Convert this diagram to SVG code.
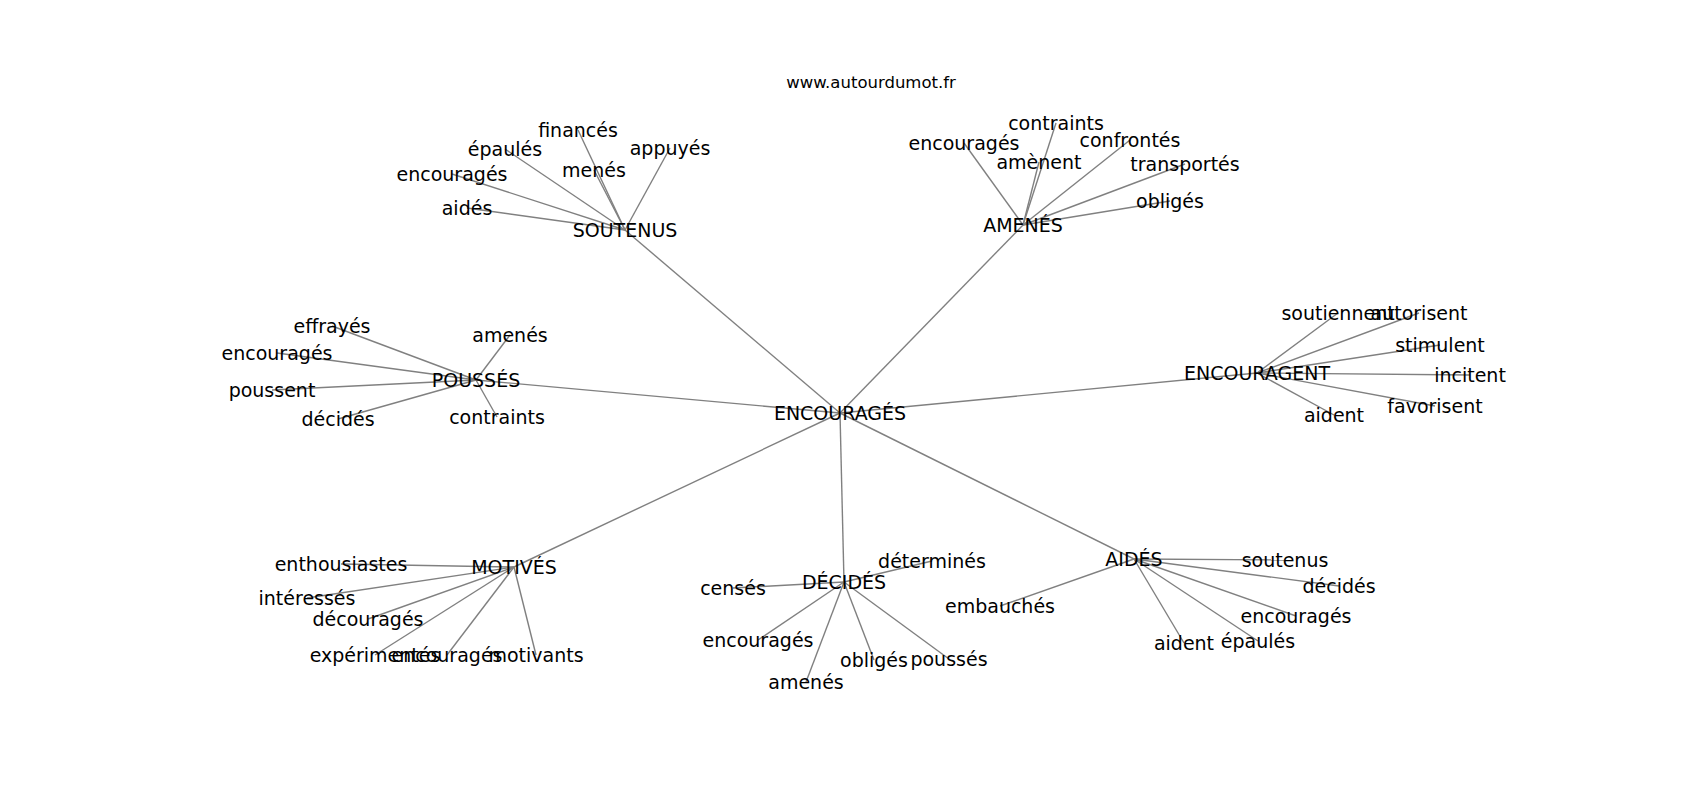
<svg xmlns="http://www.w3.org/2000/svg" width="1700" height="800" viewBox="0 0 1700 800">
<style>
text{font-family:"DejaVu Sans","Liberation Sans",sans-serif;fill:#000}
.n text{font-size:19px;text-anchor:middle}
.t{font-size:16.5px;text-anchor:middle}
#edges line{stroke:#808080;stroke-width:1.4}
</style>
<rect width="1700" height="800" fill="#fff"/>
<text class="t" x="871" y="88">www.autourdumot.fr</text>
<g id="edges">
<line x1="840" y1="413" x2="625" y2="230"/>
<line x1="840" y1="413" x2="1023" y2="225"/>
<line x1="840" y1="413" x2="476" y2="380"/>
<line x1="840" y1="413" x2="1257" y2="373"/>
<line x1="840" y1="413" x2="514" y2="567"/>
<line x1="840" y1="413" x2="844" y2="582"/>
<line x1="840" y1="413" x2="1134" y2="559"/>
<line x1="625" y1="230" x2="578" y2="130"/>
<line x1="625" y1="230" x2="505" y2="149"/>
<line x1="625" y1="230" x2="452" y2="174"/>
<line x1="625" y1="230" x2="467" y2="208"/>
<line x1="625" y1="230" x2="594" y2="170"/>
<line x1="625" y1="230" x2="670" y2="148"/>
<line x1="1023" y1="225" x2="1056" y2="123"/>
<line x1="1023" y1="225" x2="964" y2="143"/>
<line x1="1023" y1="225" x2="1039" y2="162"/>
<line x1="1023" y1="225" x2="1130" y2="140"/>
<line x1="1023" y1="225" x2="1185" y2="164"/>
<line x1="1023" y1="225" x2="1170" y2="201"/>
<line x1="476" y1="380" x2="332" y2="326"/>
<line x1="476" y1="380" x2="277" y2="353"/>
<line x1="476" y1="380" x2="272" y2="390"/>
<line x1="476" y1="380" x2="338" y2="419"/>
<line x1="476" y1="380" x2="510" y2="335"/>
<line x1="476" y1="380" x2="497" y2="417"/>
<line x1="1257" y1="373" x2="1338" y2="313"/>
<line x1="1257" y1="373" x2="1419" y2="313"/>
<line x1="1257" y1="373" x2="1440" y2="345"/>
<line x1="1257" y1="373" x2="1470" y2="375"/>
<line x1="1257" y1="373" x2="1435" y2="406"/>
<line x1="1257" y1="373" x2="1334" y2="415"/>
<line x1="514" y1="567" x2="341" y2="564"/>
<line x1="514" y1="567" x2="307" y2="598"/>
<line x1="514" y1="567" x2="368" y2="619"/>
<line x1="514" y1="567" x2="375" y2="655"/>
<line x1="514" y1="567" x2="447" y2="655"/>
<line x1="514" y1="567" x2="536" y2="655"/>
<line x1="844" y1="582" x2="932" y2="561"/>
<line x1="844" y1="582" x2="733" y2="588"/>
<line x1="844" y1="582" x2="758" y2="640"/>
<line x1="844" y1="582" x2="806" y2="682"/>
<line x1="844" y1="582" x2="874" y2="660"/>
<line x1="844" y1="582" x2="949" y2="659"/>
<line x1="1134" y1="559" x2="1285" y2="560"/>
<line x1="1134" y1="559" x2="1339" y2="586"/>
<line x1="1134" y1="559" x2="1296" y2="616"/>
<line x1="1134" y1="559" x2="1258" y2="641"/>
<line x1="1134" y1="559" x2="1184" y2="643"/>
<line x1="1134" y1="559" x2="1000" y2="606"/>
</g>
<g class="n">
<g id="n-encourages"><text x="840" y="420">ENCOURAGÉS</text></g>
<g id="n-soutenus"><text x="625" y="237">SOUTENUS</text></g>
<g id="n-amenes"><text x="1023" y="232">AMENÉS</text></g>
<g id="n-pousses"><text x="476" y="387">POUSSÉS</text></g>
<g id="n-encouragent"><text x="1257" y="380">ENCOURAGENT</text></g>
<g id="n-motives"><text x="514" y="574">MOTIVÉS</text></g>
<g id="n-decides"><text x="844" y="589">DÉCIDÉS</text></g>
<g id="n-aides"><text x="1134" y="566">AIDÉS</text></g>
<g id="s-finances"><text x="578" y="137">financés</text></g>
<g id="s-epaules"><text x="505" y="156">épaulés</text></g>
<g id="s-encourages"><text x="452" y="181">encouragés</text></g>
<g id="s-aides"><text x="467" y="215">aidés</text></g>
<g id="s-menes"><text x="594" y="177">menés</text></g>
<g id="s-appuyes"><text x="670" y="155">appuyés</text></g>
<g id="a-contraints"><text x="1056" y="130">contraints</text></g>
<g id="a-encourages"><text x="964" y="150">encouragés</text></g>
<g id="a-amenent"><text x="1039" y="169">amènent</text></g>
<g id="a-confrontes"><text x="1130" y="147">confrontés</text></g>
<g id="a-transportes"><text x="1185" y="171">transportés</text></g>
<g id="a-obliges"><text x="1170" y="208">obligés</text></g>
<g id="p-effrayes"><text x="332" y="333">effrayés</text></g>
<g id="p-encourages"><text x="277" y="360">encouragés</text></g>
<g id="p-poussent"><text x="272" y="397">poussent</text></g>
<g id="p-decides"><text x="338" y="426">décidés</text></g>
<g id="p-amenes"><text x="510" y="342">amenés</text></g>
<g id="p-contraints"><text x="497" y="424">contraints</text></g>
<g id="e-soutiennent"><text x="1338" y="320">soutiennent</text></g>
<g id="e-autorisent"><text x="1419" y="320">autorisent</text></g>
<g id="e-stimulent"><text x="1440" y="352">stimulent</text></g>
<g id="e-incitent"><text x="1470" y="382">incitent</text></g>
<g id="e-favorisent"><text x="1435" y="413">favorisent</text></g>
<g id="e-aident"><text x="1334" y="422">aident</text></g>
<g id="m-enthousiastes"><text x="341" y="571">enthousiastes</text></g>
<g id="m-interesses"><text x="307" y="605">intéressés</text></g>
<g id="m-decourages"><text x="368" y="626">découragés</text></g>
<g id="m-experimentes"><text x="375" y="662">expérimentés</text></g>
<g id="m-encourages"><text x="447" y="662">encouragés</text></g>
<g id="m-motivants"><text x="536" y="662">motivants</text></g>
<g id="d-determines"><text x="932" y="568">déterminés</text></g>
<g id="d-censes"><text x="733" y="595">censés</text></g>
<g id="d-encourages"><text x="758" y="647">encouragés</text></g>
<g id="d-amenes"><text x="806" y="689">amenés</text></g>
<g id="d-obliges"><text x="874" y="667">obligés</text></g>
<g id="d-pousses"><text x="949" y="666">poussés</text></g>
<g id="i-soutenus"><text x="1285" y="567">soutenus</text></g>
<g id="i-decides"><text x="1339" y="593">décidés</text></g>
<g id="i-encourages"><text x="1296" y="623">encouragés</text></g>
<g id="i-epaules"><text x="1258" y="648">épaulés</text></g>
<g id="i-aident"><text x="1184" y="650">aident</text></g>
<g id="i-embauches"><text x="1000" y="613">embauchés</text></g>
</g>
</svg>
